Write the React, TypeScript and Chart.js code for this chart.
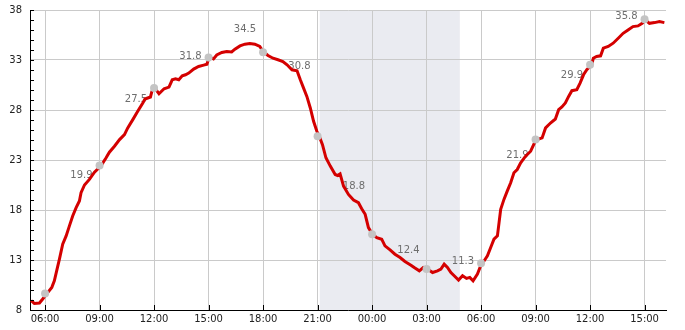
import React, { useEffect, useRef } from "react";
import { Chart, registerables } from "chart.js";
Chart.register(...registerables);

// Hours counted from 00:00 of the first day
const lineHours = [
  5.23, 5.41, 5.69, 5.87, 6.11, 6.37, 6.51, 6.66, 6.79, 6.97, 7.16, 7.34, 7.52, 7.71, 7.89, 7.98, 8.17, 8.44, 8.72, 9.09,
  9.36, 9.54, 9.82, 10.1, 10.37, 10.55, 10.83, 11.1, 11.38, 11.5, 11.65, 11.8, 11.88, 12.04,
  12.27, 12.55, 12.82, 13.0, 13.18, 13.36, 13.55, 13.73, 13.91, 14.18, 14.45, 14.73, 14.91, 15.0, 15.1, 15.27, 15.45,
  15.73, 16.0, 16.27, 16.45, 16.73, 17.0, 17.27, 17.55, 17.82, 18.0, 18.27, 18.55, 18.82, 19.09,
  19.32, 19.59, 19.87, 20.05, 20.23, 20.41, 20.6, 20.78, 20.96, 21.09, 21.27, 21.46, 21.7, 21.97, 22.1, 22.24, 22.43,
  22.7, 22.98, 23.25, 23.43, 23.62, 23.8, 24.02, 24.26, 24.53, 24.71, 24.99, 25.26, 25.54, 25.81, 26.14,
  26.32, 26.6, 26.82, 27.11, 27.33, 27.6, 27.79, 27.97, 28.15, 28.34, 28.52, 28.76, 28.98, 29.2, 29.38, 29.56, 29.8,
  29.98, 30.11, 30.35, 30.53, 30.71, 30.9, 30.99, 31.08, 31.26, 31.44, 31.63, 31.81, 31.99, 32.18, 32.45, 32.73, 33.0,
  33.09, 33.36, 33.55, 33.82, 34.09, 34.27, 34.45, 34.64, 34.82, 35.0, 35.27, 35.45, 35.64, 35.82, 36.09, 36.18, 36.36,
  36.58, 36.73, 37.0, 37.27, 37.55, 37.82, 38.09, 38.36, 38.64, 38.87, 39.05, 39.27, 39.55, 39.82, 40.09,
];
const lineValues = [
  8.93, 8.66, 8.7, 9.1, 9.66, 10.26, 10.92, 12.09, 13.08, 14.58, 15.41, 16.41, 17.4, 18.23, 18.9, 19.73, 20.5, 21.06, 21.79, 22.45,
  23.22, 23.78, 24.38, 25.04, 25.54, 26.21, 27.04, 27.87, 28.7, 29.1, 29.2, 29.3, 29.86, 30.19,
  29.63, 30.13, 30.29, 31.02, 31.12, 31.02, 31.42, 31.52, 31.69, 32.09, 32.35, 32.49, 32.58, 33.12, 33.25, 33.1, 33.5,
  33.75, 33.85, 33.8, 34.08, 34.41, 34.58, 34.64, 34.58, 34.35, 33.85, 33.45, 33.18, 33.02, 32.85,
  32.52, 32.02, 31.92, 31.02, 30.19, 29.36, 28.2, 26.87, 25.87, 25.38, 24.54, 23.22, 22.39, 21.55, 21.45, 21.62, 20.39,
  19.56, 19.0, 18.73, 18.13, 17.57, 16.24, 15.57, 15.24, 15.08, 14.41, 14.01, 13.58, 13.25, 12.85, 12.48,
  12.25, 11.92, 12.25, 12.02, 11.75, 11.92, 12.09, 12.58, 12.25, 11.75, 11.42, 10.99, 11.42, 11.16, 11.26, 10.92, 11.59,
  12.42, 12.75, 13.42, 14.25, 15.08, 15.41, 16.74, 18.07, 19.06, 19.89, 20.72, 21.72, 22.05, 22.72, 23.38, 23.88, 24.94,
  25.04, 25.21, 26.21, 26.7, 27.1, 28.03, 28.3, 28.7, 29.36, 29.93, 30.03, 30.69, 31.52, 32.02, 32.52, 33.18, 33.35,
  33.42, 34.18, 34.35, 34.68, 35.18, 35.67, 36.01, 36.34, 36.41, 36.67, 37.0, 36.67, 36.74, 36.84, 36.74,
];

const markerHours = [6, 9, 12, 15, 18, 21, 24, 27, 30, 33, 36, 39];
const markerValues = [9.66, 22.45, 30.19, 33.25, 33.78, 25.38, 15.57, 12.09, 12.68, 25.04, 32.52, 37.07];

const labelHours = [9, 12, 15, 18, 21, 24, 27, 30, 33, 36, 39];
const labelValues = [19.9, 27.5, 31.8, 34.5, 30.8, 18.8, 12.4, 11.3, 21.9, 29.9, 35.8];

const xTickHours = [6, 9, 12, 15, 18, 21, 24, 27, 30, 33, 36, 39];
const xTickLabels = ["06:00", "09:00", "12:00", "15:00", "18:00", "21:00", "00:00", "03:00", "06:00", "09:00", "12:00", "15:00"];

const xMin = 5.17;
const xMax = 40.18;
const yMin = 8;
const yMax = 38;
const yMajorStep = 5;
const yMinorStep = 1;

const nightStart = 21.12;
const nightEnd = 28.83;

export default function App() {
  const ref = useRef<HTMLCanvasElement>(null);

  useEffect(() => {
    const canvas = ref.current;
    if (!canvas) return;

    const shadePlugin = {
      id: "shade",
      beforeDraw(chart: any) {
        const { ctx, chartArea, scales } = chart;
        const x0 = scales.x.getPixelForValue(nightStart);
        const x1 = scales.x.getPixelForValue(nightEnd);
        ctx.save();
        ctx.fillStyle = "#eaebf1";
        ctx.fillRect(x0, chartArea.top, x1 - x0, chartArea.bottom - chartArea.top);
        ctx.restore();
      },
    };

    const labelPlugin = {
      id: "valueLabels",
      beforeDatasetsDraw(chart: any) {
        const { ctx, scales } = chart;
        ctx.save();
        ctx.font = "10px 'DejaVu Sans'";
        ctx.fillStyle = "#6e6e6e";
        ctx.textAlign = "right";
        ctx.textBaseline = "middle";
        labelHours.forEach((h, i) => {
          const x = scales.x.getPixelForValue(h) - 7;
          const y = scales.y.getPixelForValue(labelValues[i]) - 16;
          ctx.fillText(labelValues[i].toFixed(1), x, y);
        });
        ctx.restore();
      },
    };

    const tickPlugin = {
      id: "innerTicks",
      afterDatasetsDraw(chart: any) {
        const { ctx, chartArea, scales } = chart;
        ctx.save();
        ctx.strokeStyle = "#000";
        ctx.lineWidth = 1;
        ctx.beginPath();
        for (let v = yMin; v <= yMax; v += yMinorStep) {
          const y = Math.round(scales.y.getPixelForValue(v)) + 0.5;
          ctx.moveTo(chartArea.left, y);
          ctx.lineTo(chartArea.left + 4, y);
        }
        xTickHours.forEach((h) => {
          const x = Math.round(scales.x.getPixelForValue(h)) + 0.5;
          ctx.moveTo(x, chartArea.bottom);
          ctx.lineTo(x, chartArea.bottom - 5);
        });
        ctx.stroke();
        ctx.restore();
      },
    };

    const chart = new Chart(canvas, {
      type: "line",
      data: {
        datasets: [
          {
            label: "markers",
            data: markerHours.map((h, i) => ({ x: h, y: markerValues[i] })),
            showLine: false,
            pointRadius: 4,
            pointBackgroundColor: "#c4c4c4",
            pointBorderWidth: 0,
            borderColor: "#c4c4c4",
            order: 0,
          },
          {
            label: "temperature",
            data: lineHours.map((h, i) => ({ x: h, y: lineValues[i] })),
            borderColor: "rgb(212,0,0)",
            borderWidth: 3,
            pointRadius: 0,
            tension: 0,
            fill: false,
            order: 1,
          },
        ],
      },
      options: {
        animation: false,
        responsive: true,
        maintainAspectRatio: false,
        layout: { padding: { top: 10, right: 19, left: 0, bottom: 0 } },
        plugins: { legend: { display: false }, tooltip: { enabled: false } },
        events: [],
        scales: {
          x: {
            type: "linear",
            min: xMin,
            max: xMax,
            afterBuildTicks: (s: any) => {
              s.ticks = xTickHours.map((v) => ({ value: v }));
            },
            afterFit: (s: any) => {
              s.height = 20;
              s.paddingLeft = 0;
              s.paddingRight = 0;
            },
            ticks: {
              callback: (_v: any, i: number) => xTickLabels[i],
              autoSkip: false,
              maxRotation: 0,
              padding: 3,
              color: "#222",
              font: { family: "'DejaVu Sans'", size: 10 },
            },
            grid: { color: "#cacaca", drawTicks: false },
            border: { color: "#000", width: 1 },
          },
          y: {
            min: yMin,
            max: yMax,
            afterFit: (s: any) => {
              s.width = 30;
              s.paddingTop = 0;
              s.paddingBottom = 0;
            },
            ticks: {
              stepSize: yMajorStep,
              padding: 8,
              color: "#222",
              font: { family: "'DejaVu Sans'", size: 10 },
            },
            grid: { color: "#cacaca", drawTicks: false },
            border: { color: "#000", width: 1 },
          },
        },
      },
      plugins: [shadePlugin, labelPlugin, tickPlugin],
    });

    return () => chart.destroy();
  }, []);

  return (
    <div style={{ position: "fixed", left: 0, top: 0, width: 685, height: 330, background: "#fff" }}>
      <canvas ref={ref} />
    </div>
  );
}
